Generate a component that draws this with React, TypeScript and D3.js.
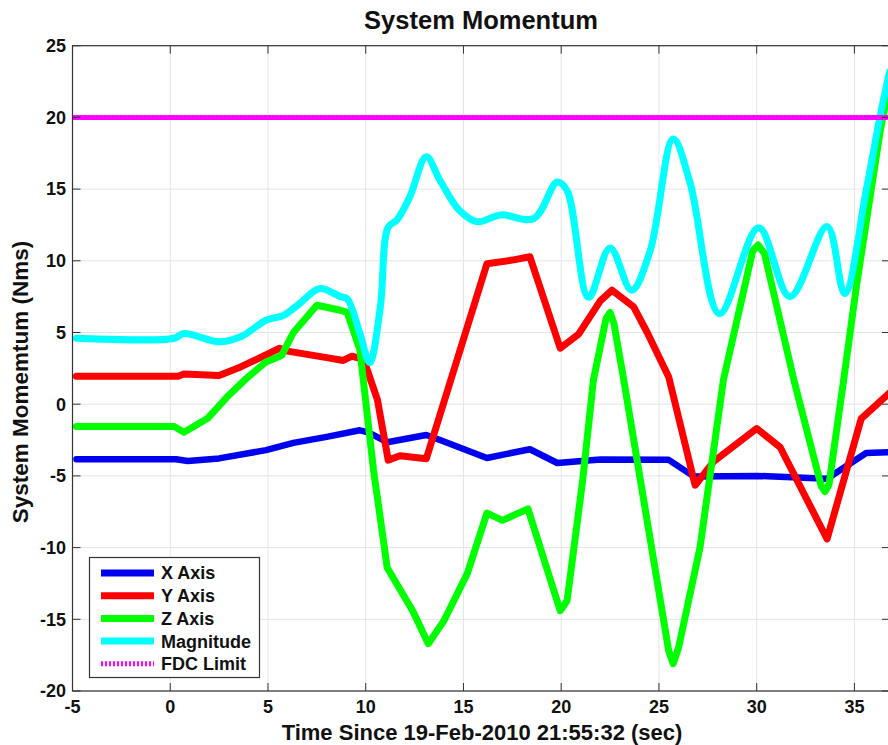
import React from 'react';
import * as d3 from 'd3';

// time (sec), value (Nms) pairs
const xAxisData: [number, number][] = [
  [-4.8, -3.84], [0.3, -3.84], [0.9, -3.96], [2.5, -3.78], [4.9, -3.2], [6.3, -2.7],
  [8.0, -2.28], [9.7, -1.82], [10.1, -1.95], [11.1, -2.65], [13.1, -2.15], [13.8, -2.5],
  [16.2, -3.75], [18.4, -3.14], [19.8, -4.1], [22.0, -3.85], [25.5, -3.88], [26.8, -5.05],
  [30.0, -5.0], [33.6, -5.2], [35.6, -3.4], [36.8, -3.35]
];
const yAxisData: [number, number][] = [
  [-4.8, 1.95], [0.4, 1.95], [0.7, 2.1], [2.5, 2.0], [3.6, 2.6], [5.6, 3.9], [6.0, 3.7],
  [8.0, 3.25], [8.85, 3.05], [9.3, 3.35], [9.9, 3.1], [10.6, 0.3], [11.15, -3.9],
  [11.75, -3.6], [13.1, -3.8], [16.2, 9.8], [17.5, 10.05], [18.4, 10.28], [19.95, 3.9],
  [20.9, 4.9], [22.0, 7.2], [22.6, 7.95], [23.7, 6.8], [24.4, 5.0], [25.5, 1.9],
  [26.85, -5.65], [27.8, -4.0], [30.0, -1.7], [31.2, -3.0], [33.6, -9.4], [35.35, -1.0],
  [36.8, 0.8]
];
const zAxisData: [number, number][] = [
  [-4.8, -1.55], [0.2, -1.55], [0.7, -1.95], [1.9, -1.0], [2.9, 0.5], [3.9, 1.8],
  [4.9, 2.95], [5.7, 3.4], [6.3, 5.0], [7.5, 6.9], [8.7, 6.55], [9.05, 6.4], [9.7, 3.8],
  [10.4, -4.6], [11.1, -11.4], [12.4, -14.4], [13.2, -16.7], [14.0, -15.1], [15.2, -11.8],
  [16.2, -7.6], [17.0, -8.1], [18.3, -7.3], [19.95, -14.4], [20.3, -13.7], [21.1, -5.3],
  [21.65, 1.7], [22.3, 6.0], [22.5, 6.4], [22.7, 5.6], [23.2, 1.7], [25.5, -17.2],
  [25.73, -18.1], [26.0, -17.0], [27.1, -10.0], [28.3, 1.7], [29.8, 10.7], [30.08, 11.1],
  [30.4, 10.5], [31.9, 1.7], [33.3, -5.7], [33.5, -6.1], [33.7, -5.6], [34.45, 1.7],
  [35.1, 8.2], [36.3, 18.9], [36.8, 22.5]
];
const magnitudeData: [number, number][] = [
  [-4.8, 4.6], [0.2, 4.6], [0.7, 4.93], [2.5, 4.35], [3.6, 4.7], [4.9, 5.85], [5.8, 6.2],
  [6.6, 7.0], [7.65, 8.07], [8.7, 7.5], [9.05, 7.35], [9.7, 4.95], [10.2, 2.9], [10.75, 6.8],
  [11.15, 12.35], [11.6, 12.85], [12.25, 14.45], [13.1, 17.25], [13.8, 15.6], [14.8, 13.5],
  [15.7, 12.72], [16.9, 13.2], [18.6, 12.95], [19.8, 15.5], [20.3, 14.9], [21.4, 7.45],
  [22.5, 10.9], [23.6, 7.95], [24.55, 10.7], [25.73, 18.5], [26.6, 15.4], [28.1, 6.3],
  [30.1, 12.3], [31.7, 7.5], [33.6, 12.4], [34.5, 7.7], [35.6, 14.9], [36.3, 20.0],
  [36.8, 23.2]
];
const fdcLimit = 20;

const xTicks = [-5, 0, 5, 10, 15, 20, 25, 30, 35];
const yTicks = [-20, -15, -10, -5, 0, 5, 10, 15, 20, 25];
const legendLabels = ['X Axis', 'Y Axis', 'Z Axis', 'Magnitude', 'FDC Limit'];
const colors = ['#0000f0', '#ff0000', '#00ff00', '#00ffff', '#ff00ff'];

const W = 888, H = 745;
const left = 72.5, right = 890, top = 45.7, bottom = 691;
const font = 'Arial, "Liberation Sans", sans-serif';

const App = () => {
  const x = d3.scaleLinear().domain([-5, 36.82]).range([left, right]);
  const y = d3.scaleLinear().domain([-20, 25]).range([bottom, top]);

  const lin = d3.line<[number, number]>().x(d => x(d[0])).y(d => y(d[1]));
  const smooth = d3.line<[number, number]>().x(d => x(d[0])).y(d => y(d[1]))
    .curve(d3.curveCatmullRom.alpha(0.5));

  const series = [
    { d: lin(xAxisData), w: 6.5 },
    { d: lin(yAxisData), w: 7 },
    { d: lin(zAxisData), w: 7 },
    { d: smooth(magnitudeData), w: 7 },
  ];

  const legendRowY = (i: number) => 573 + i * 22.7;

  return (
    <svg width={W} height={H} style={{ position: 'absolute', left: 0, top: 0, background: '#fff' }}
      fontFamily={font} fontWeight="bold">
      <defs>
        <clipPath id="plotClip">
          <rect x={left} y={top} width={right - left} height={bottom - top} />
        </clipPath>
      </defs>
      <rect width={W} height={H} fill="#fff" />

      {/* grid */}
      {xTicks.map(t => (
        <line key={'gx' + t} x1={x(t)} x2={x(t)} y1={top} y2={bottom} stroke="#e4e4e4" strokeWidth={1} />
      ))}
      {yTicks.map(t => (
        <line key={'gy' + t} x1={left} x2={right} y1={y(t)} y2={y(t)} stroke="#e4e4e4" strokeWidth={1} />
      ))}

      {/* data */}
      <g clipPath="url(#plotClip)" fill="none" strokeLinejoin="round" strokeLinecap="round">
        {series.map((s, i) => (
          <path key={i} d={s.d || ''} stroke={colors[i]} strokeWidth={s.w} />
        ))}
        <line x1={left} x2={right} y1={y(fdcLimit)} y2={y(fdcLimit)} stroke={colors[4]}
          strokeWidth={5} strokeDasharray="2,2" />
      </g>

      {/* axes box with inward ticks */}
      <rect x={left} y={top} width={right - left} height={bottom - top} fill="none" stroke="#333" strokeWidth={1.2} />
      {xTicks.map(t => (
        <g key={'tx' + t}>
          <line x1={x(t)} x2={x(t)} y1={bottom} y2={bottom - 8} stroke="#333" />
          <line x1={x(t)} x2={x(t)} y1={top} y2={top + 8} stroke="#333" />
          <text x={x(t)} y={713} textAnchor="middle" fontSize={18} fill="#111">{t}</text>
        </g>
      ))}
      {yTicks.map(t => (
        <g key={'ty' + t}>
          <line x1={left} x2={left + 8} y1={y(t)} y2={y(t)} stroke="#333" />
          <line x1={right} x2={right - 8} y1={y(t)} y2={y(t)} stroke="#333" />
          <text x={66} y={y(t)} dy="0.35em" textAnchor="end" fontSize={18} fill="#111">{t}</text>
        </g>
      ))}

      {/* titles */}
      <text x={481} y={29} textAnchor="middle" fontSize={25.5} fill="#111">System Momentum</text>
      <text x={482} y={740} textAnchor="middle" fontSize={22} fill="#111">
        Time Since 19-Feb-2010 21:55:32 (sec)
      </text>
      <text transform={`translate(28, 382) rotate(-90)`} textAnchor="middle" fontSize={22.5} fill="#111">
        System Momemtum (Nms)
      </text>

      {/* legend */}
      <rect x={89.5} y={557.5} width={170} height={120} fill="#fff" stroke="#333" strokeWidth={1.2} />
      {legendLabels.map((lab, i) => (
        <g key={lab}>
          <line x1={101} x2={154} y1={legendRowY(i)} y2={legendRowY(i)} stroke={colors[i]}
            strokeWidth={i === 4 ? 5 : 7} strokeDasharray={i === 4 ? '2,2' : undefined} />
          <text x={161} y={legendRowY(i)} dy="0.36em" fontSize={18} fill="#111">{lab}</text>
        </g>
      ))}
    </svg>
  );
};

export default App;
